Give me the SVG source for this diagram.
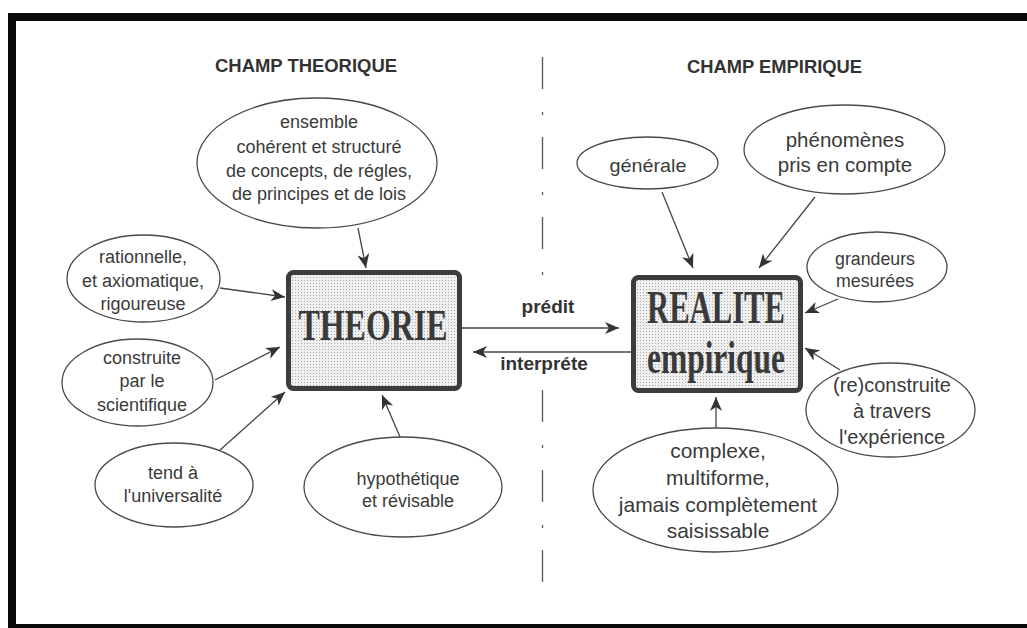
<svg xmlns="http://www.w3.org/2000/svg" width="1027" height="628" viewBox="0 0 1027 628">
<style>
.ell{fill:#fff;stroke:#4a4a4a;stroke-width:1.3}
.t{font-family:"Liberation Sans",Arial,sans-serif;fill:#3a3a3a;text-anchor:middle}
.l{font-size:18px}
.r{font-size:21px}
.hdr{font-family:"Liberation Sans",Arial,sans-serif;font-weight:bold;font-size:19px;fill:#333;text-anchor:middle}
.lbl{font-family:"Liberation Sans",Arial,sans-serif;font-weight:bold;font-size:19px;fill:#333;text-anchor:middle}
.box{fill:url(#dots);stroke:#3c3c3c;stroke-width:5}
.big{font-family:"Liberation Serif","Times New Roman",serif;font-weight:bold;fill:#3a3a3a;text-anchor:middle}
.c{stroke:#444;stroke-width:1.3;fill:none;marker-end:url(#ah)}
.dash{stroke:#555;stroke-width:1.3;stroke-dasharray:32 23 3 22}
</style>
<defs>
<pattern id="dots" width="3" height="3" patternUnits="userSpaceOnUse"><rect width="3" height="3" fill="#efefef"/><rect x="1" y="1" width="1" height="1" fill="#a8a8a8"/></pattern>
<marker id="ah" viewBox="0 0 14 12" refX="14" refY="6" markerWidth="14" markerHeight="12" markerUnits="userSpaceOnUse" orient="auto"><path d="M0,0 L14,6 L0,12 L4,6 Z" fill="#333"/></marker>
</defs>
<rect width="1027" height="628" fill="#fff"/>
<g id="frame" fill="#0a0a0a">
<rect x="8" y="13" width="1019" height="8"/>
<rect x="8" y="13" width="8" height="615"/>
<rect x="8" y="624" width="1019" height="4"/>
</g>
<g id="headers">
<text class="hdr" x="306" y="72" textLength="182" lengthAdjust="spacingAndGlyphs">CHAMP THEORIQUE</text>
<text class="hdr" x="774.5" y="73" textLength="175" lengthAdjust="spacingAndGlyphs">CHAMP EMPIRIQUE</text>
</g>
<g id="divider">
<line class="dash" x1="542.5" y1="57" x2="542.5" y2="275"/>
<line class="dash" x1="542.5" y1="390" x2="542.5" y2="582"/>
</g>
<g id="connectors">
<line class="c" x1="358" y1="228" x2="366" y2="268"/>
<line class="c" x1="220" y1="288" x2="285" y2="297"/>
<line class="c" x1="215" y1="380" x2="280" y2="347"/>
<line class="c" x1="220" y1="450" x2="285" y2="392"/>
<line class="c" x1="400" y1="437" x2="382" y2="395"/>
<line class="c" x1="662" y1="192" x2="693" y2="268"/>
<line class="c" x1="815" y1="197" x2="759" y2="268"/>
<line class="c" x1="838" y1="299" x2="805" y2="313"/>
<line class="c" x1="840" y1="370" x2="805" y2="348"/>
<line class="c" x1="716" y1="428" x2="716" y2="397"/>
<line class="c" x1="462" y1="328" x2="619" y2="328"/>
<line class="c" x1="631" y1="352" x2="473" y2="352"/>
<text class="lbl" x="548" y="313">prédit</text>
<text class="lbl" x="544" y="370">interpréte</text>
</g>
<g id="theorie">
<rect class="box" x="288.5" y="272.5" width="171" height="116" rx="5"/>
<text class="big" x="373" y="340" font-size="45" textLength="149" lengthAdjust="spacingAndGlyphs">THEORIE</text>
</g>
<g id="realite">
<rect class="box" x="633.5" y="277.5" width="167" height="113" rx="5"/>
<text class="big" x="716" y="323" font-size="46" textLength="138" lengthAdjust="spacingAndGlyphs">REALITE</text>
<text class="big" x="716" y="373" font-size="46" textLength="138" lengthAdjust="spacingAndGlyphs">empirique</text>
</g>
<g id="n-ensemble">
<ellipse class="ell" cx="317" cy="163" rx="120" ry="65"/>
<text class="t l" x="319" y="128">ensemble</text>
<text class="t l" x="319" y="153">cohérent et structuré</text>
<text class="t l" x="319" y="177">de concepts, de régles,</text>
<text class="t l" x="319" y="200">de principes et de lois</text>
</g>
<g id="n-rationnelle">
<ellipse class="ell" cx="143.5" cy="278.5" rx="76.5" ry="43.5"/>
<text class="t l" x="143" y="263">rationnelle,</text>
<text class="t l" x="143" y="287">et axiomatique,</text>
<text class="t l" x="143" y="310">rigoureuse</text>
</g>
<g id="n-construite">
<ellipse class="ell" cx="137.5" cy="382.5" rx="75.5" ry="43.5"/>
<text class="t l" x="142" y="364">construite</text>
<text class="t l" x="142" y="387">par le</text>
<text class="t l" x="142" y="411">scientifique</text>
</g>
<g id="n-universalite">
<ellipse class="ell" cx="174" cy="485" rx="79" ry="42"/>
<text class="t l" x="173" y="479">tend à</text>
<text class="t l" x="173" y="502">l'universalité</text>
</g>
<g id="n-hypothetique">
<ellipse class="ell" cx="403" cy="487" rx="99" ry="50"/>
<text class="t l" x="408" y="485">hypothétique</text>
<text class="t l" x="408" y="507">et révisable</text>
</g>
<g id="n-generale">
<ellipse class="ell" cx="647.5" cy="163" rx="70.5" ry="26"/>
<text class="t" font-size="19" x="648" y="172" textLength="77" lengthAdjust="spacingAndGlyphs">générale</text>
</g>
<g id="n-phenomenes">
<ellipse class="ell" cx="844.5" cy="149.5" rx="100.5" ry="44.5"/>
<text class="t" font-size="20.5" x="845" y="147">phénomènes</text>
<text class="t" font-size="20.5" x="845" y="172">pris en compte</text>
</g>
<g id="n-grandeurs">
<ellipse class="ell" cx="877" cy="267" rx="70" ry="35"/>
<text class="t" font-size="19" x="875" y="265" textLength="80" lengthAdjust="spacingAndGlyphs">grandeurs</text>
<text class="t" font-size="19" x="875" y="287" textLength="78" lengthAdjust="spacingAndGlyphs">mesurées</text>
</g>
<g id="n-reconstruite">
<ellipse class="ell" cx="890.5" cy="410" rx="84.5" ry="47"/>
<text class="t" font-size="20" x="892" y="392">(re)construite</text>
<text class="t" font-size="20" x="892" y="418">à travers</text>
<text class="t" font-size="20" x="892" y="444">l'expérience</text>
</g>
<g id="n-complexe">
<ellipse class="ell" cx="715.5" cy="490" rx="122.5" ry="62"/>
<text class="t r" x="718" y="458">complexe,</text>
<text class="t r" x="718" y="485">multiforme,</text>
<text class="t r" x="718" y="512">jamais complètement</text>
<text class="t r" x="718" y="538">saisissable</text>
</g>
</svg>
